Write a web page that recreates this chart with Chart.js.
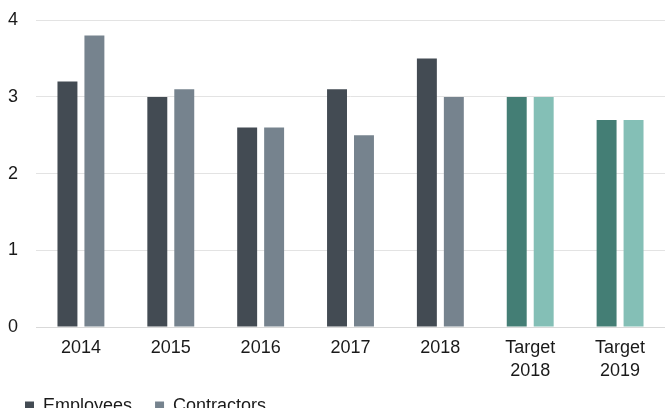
<!DOCTYPE html>
<html>
<head>
<meta charset="utf-8">
<script src="https://cdn.jsdelivr.net/npm/chart.js@4"></script>
<style>
  html, body { margin: 0; padding: 0; overflow: hidden; background: #fff; }
  #wrap { position: relative; top: -9px; width: 665px; height: 429px; }
</style>
</head>
<body>
<div id="wrap"><canvas id="headcountChart"></canvas></div>
<script>
// categories and values
const categories = ['2014', '2015', '2016', '2017', '2018', ['Target', '2018'], ['Target', '2019']];
const employees = [3.2, 3.0, 2.6, 3.1, 3.5, 3.0, 2.7];
const contractors = [3.8, 3.1, 2.6, 2.5, 3.0, 3.0, 2.7];
const yTicks = [0, 1, 2, 3, 4];

// actual years grey, targets teal
const empColors = ['#434b53', '#434b53', '#434b53', '#434b53', '#434b53', '#447e75', '#447e75'];
const conColors = ['#76838e', '#76838e', '#76838e', '#76838e', '#76838e', '#84bfb6', '#84bfb6'];

const labelFont = { family: 'Liberation Sans', size: 18, lineHeight: 1.25 };

// legend sits a little right of the y labels and is cut by the bottom edge
const legendShift = {
  id: 'legendShift',
  afterLayout(chart) {
    chart.legend.left += 17;
    chart.legend.right += 17;
    chart.legend.top += 5;
    chart.legend.bottom += 5;
  }
};

const ctx = document.getElementById('headcountChart').getContext('2d');
const headcountChart = new Chart(ctx, {
  type: 'bar',
  data: {
    labels: categories,
    datasets: [
      {
        label: 'Employees',
        data: employees,
        backgroundColor: empColors,
        borderWidth: 0,
        categoryPercentage: 0.6,
        barPercentage: 0.74
      },
      {
        label: 'Contractors',
        data: contractors,
        backgroundColor: conColors,
        borderWidth: 0,
        categoryPercentage: 0.6,
        barPercentage: 0.74
      }
    ]
  },
  options: {
    responsive: true,
    maintainAspectRatio: false,
    animation: false,
    layout: { padding: { left: 0, top: 6, right: 0, bottom: 0 } },
    scales: {
      x: {
        grid: { display: false },
        border: { color: '#d9d9d9' },
        ticks: { color: '#1a1a1a', font: labelFont, maxRotation: 0, padding: 2 }
      },
      y: {
        min: 0,
        max: 4,
        afterBuildTicks: axis => { axis.ticks = yTicks.map(v => ({ value: v })); },
        afterFit: axis => { axis.width = 36; },
        grid: { color: '#e3e3e3', drawTicks: false },
        border: { display: false },
        ticks: { color: '#1a1a1a', font: labelFont, padding: 18 }
      }
    },
    plugins: {
      tooltip: { enabled: false },
      legend: {
        position: 'bottom',
        align: 'start',
        labels: {
          color: '#1a1a1a',
          boxWidth: 9,
          boxHeight: 9,
          padding: 8,
          font: labelFont,
          // a bit more room after each entry, as in the original
          generateLabels: chart => Chart.defaults.plugins.legend.labels.generateLabels(chart)
            .map((item, i) => ({ ...item, fillStyle: i === 0 ? empColors[0] : conColors[0], text: item.text + '   ' }))
        }
      }
    }
  },
  plugins: [legendShift]
});
</script>
</body>
</html>
